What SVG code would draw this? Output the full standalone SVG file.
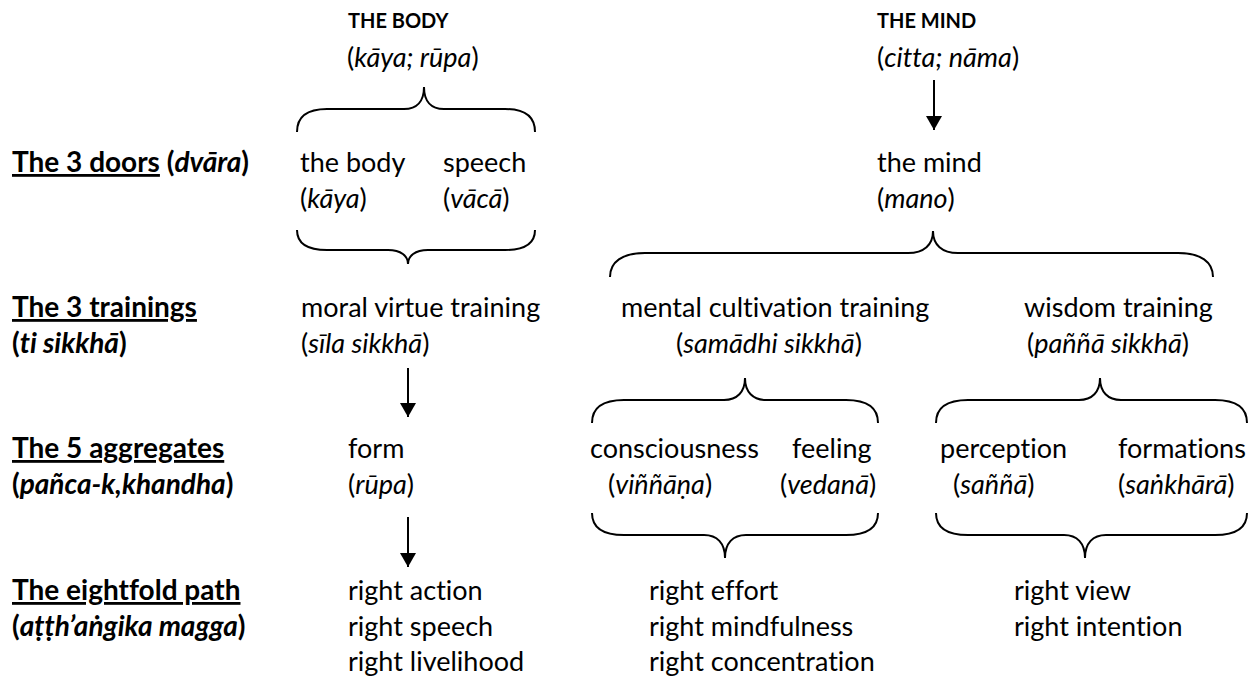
<svg xmlns="http://www.w3.org/2000/svg" width="1254" height="678" viewBox="0 0 1254 678">
<defs>
<style>
text{font-family:Lato,"Open Sans","Liberation Sans",sans-serif;font-size:27px;fill:#000;font-variant-ligatures:none;font-feature-settings:"liga" 0,"dlig" 0}
.hd{font-weight:bold;font-size:20px}
.lb{font-weight:bold;font-size:28px}
.i{font-style:italic}
.u{text-decoration:underline}
.br{fill:none;stroke:#000;stroke-width:2}
.ar{stroke:#000;stroke-width:2}
</style>
<marker id="ah" markerUnits="userSpaceOnUse" markerWidth="14" markerHeight="16" viewBox="0 0 14 16" refX="14" refY="8" orient="auto">
<path d="M0,0 L14,8 L0,16 z" fill="#000"/>
</marker>
</defs>
<rect width="1254" height="678" fill="#fff"/>

<g id="labels">
<g id="label-doors"><text class="lb" x="12" y="172"><tspan class="u">The 3 doors</tspan> (<tspan class="i">dvāra</tspan>)</text></g>
<g id="label-trainings"><text class="lb" x="12" y="317"><tspan class="u">The 3 trainings</tspan></text><text class="lb" x="12" y="353">(<tspan class="i">ti sikkhā</tspan>)</text></g>
<g id="label-aggregates"><text class="lb" x="12" y="458"><tspan class="u">The 5 aggregates</tspan></text><text class="lb" x="12" y="494">(<tspan class="i">pañca-k,khandha</tspan>)</text></g>
<g id="label-path"><text class="lb" x="12" y="600"><tspan class="u">The eightfold path</tspan></text><text class="lb" x="12" y="636">(<tspan class="i">aṭṭh’aṅgika magga</tspan>)</text></g>
</g>

<g id="body"><text class="hd" x="348" y="28">THE BODY</text><text x="347" y="67">(<tspan class="i">kāya; rūpa</tspan>)</text></g>
<g id="mind"><text class="hd" x="877" y="28">THE MIND</text><text x="877" y="67">(<tspan class="i">citta; nāma</tspan>)</text></g>

<g id="door-body"><text x="300" y="172">the body</text><text x="300" y="208">(<tspan class="i">kāya</tspan>)</text></g>
<g id="door-speech"><text x="443" y="172">speech</text><text x="443" y="208">(<tspan class="i">vācā</tspan>)</text></g>
<g id="door-mind"><text x="877" y="172">the mind</text><text x="877" y="208">(<tspan class="i">mano</tspan>)</text></g>

<g id="training-sila"><text x="301" y="317">moral virtue training</text><text x="301" y="353">(<tspan class="i">sīla sikkhā</tspan>)</text></g>
<g id="training-samadhi"><text x="621" y="317">mental cultivation training</text><text x="676" y="353">(<tspan class="i">samādhi sikkhā</tspan>)</text></g>
<g id="training-panna"><text x="1024" y="317">wisdom training</text><text x="1027" y="353">(<tspan class="i">paññā sikkhā</tspan>)</text></g>

<g id="agg-form"><text x="348" y="458">form</text><text x="348" y="494">(<tspan class="i">rūpa</tspan>)</text></g>
<g id="agg-consciousness"><text x="590" y="458">consciousness</text><text x="608" y="494">(<tspan class="i">viññāṇa</tspan>)</text></g>
<g id="agg-feeling"><text x="792" y="458">feeling</text><text x="780" y="494">(<tspan class="i">vedanā</tspan>)</text></g>
<g id="agg-perception"><text x="940" y="458">perception</text><text x="953" y="494">(<tspan class="i">saññā</tspan>)</text></g>
<g id="agg-formations"><text x="1118" y="458">formations</text><text x="1118" y="494">(<tspan class="i">saṅkhārā</tspan>)</text></g>

<g id="path-sila"><text x="348" y="600">right action</text><text x="348" y="636">right speech</text><text x="348" y="671">right livelihood</text></g>
<g id="path-samadhi"><text x="649" y="600">right effort</text><text x="649" y="636">right mindfulness</text><text x="649" y="671">right concentration</text></g>
<g id="path-panna"><text x="1014" y="600">right view</text><text x="1014" y="636">right intention</text></g>

<g id="connectors">
<path class="br" d="M297,132 C297,117 307,109 327,109 L404,109 C417,109 424,101 424,87 C424,101 431,109 444,109 L505,109 C525,109 535,117 535,132"/>
<path class="br" d="M297,230 C297,243 307,250 327,250 L388,250 C401,250 408,256 408,264 C408,256 415,250 428,250 L505,250 C525,250 535,243 535,230"/>
<path class="br" d="M610,277 C610,262 622,253 645,253 L908,253 C924,253 933,245 933,231 C933,245 942,253 958,253 L1178,253 C1201,253 1213,262 1213,277"/>
<path class="br" d="M592,423 C592,408 602,400 624,400 L724,400 C737,400 745,392 745,378 C745,392 753,400 766,400 L846,400 C868,400 878,408 878,423"/>
<path class="br" d="M936,423 C936,408 946,400 968,400 L1079,400 C1092,400 1100,392 1100,378 C1100,392 1108,400 1121,400 L1215,400 C1237,400 1247,408 1247,423"/>
<path class="br" d="M592,513 C592,527 602,535 624,535 L704,535 C717,535 725,543 725,558 C725,543 733,535 746,535 L846,535 C868,535 878,527 878,513"/>
<path class="br" d="M936,513 C936,527 946,535 968,535 L1064,535 C1077,535 1085,543 1085,558 C1085,543 1093,535 1106,535 L1215,535 C1237,535 1247,527 1247,513"/>
<line class="ar" x1="934" y1="80" x2="934" y2="130" marker-end="url(#ah)"/>
<line class="ar" x1="408" y1="368" x2="408" y2="417" marker-end="url(#ah)"/>
<line class="ar" x1="408" y1="517" x2="408" y2="567" marker-end="url(#ah)"/>
</g>
</svg>
